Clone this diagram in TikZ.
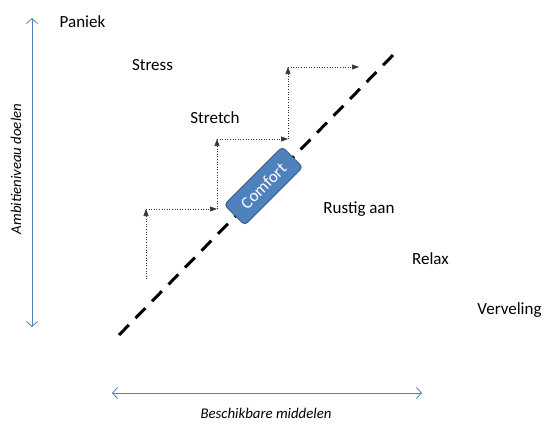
\documentclass[tikz,border=0pt]{standalone}
\usepackage{fontspec}
\setmainfont{Carlito}
\usepackage{tikz}
\usetikzlibrary{arrows.meta, positioning}
\definecolor{axisblue}{RGB}{79,129,189}
\definecolor{boxblue}{RGB}{79,129,189}
\definecolor{boxedge}{RGB}{56,93,138}
\tikzstyle{zone} = [font=\fontsize{17}{20}\selectfont, inner sep=0pt]
\tikzstyle{axislabel} = [font=\fontsize{14.8}{17}\selectfont\itshape, inner sep=0pt]
\tikzstyle{axis} = [axisblue, line width=0.8pt, {Straight Barb[length=5pt,width=11pt]}-{Straight Barb[length=5pt,width=11pt]}]
\tikzstyle{stair} = [dotted, line width=0.6pt, black!80, -{Triangle[length=7pt,width=5pt]}]
\tikzstyle{comfortbox} = [rectangle, rounded corners=4pt, minimum width=82pt, minimum height=29pt, fill=boxblue, draw=boxedge, line width=1pt, text=white, font=\fontsize{17}{20}\selectfont, inner sep=0pt]

\begin{document}
\begin{tikzpicture}[x=1pt, y=-1pt]
  \useasboundingbox (0,0) rectangle (555,439);

  % Assen
  \coordinate (ytop) at (32,18);
  \coordinate (ybot) at (32,327);
  \coordinate (xleft) at (112,393);
  \coordinate (xright) at (422,393);
  \draw[axis] (ybot) -- (ytop);
  \draw[axis] (xleft) -- (xright);
  \node[axislabel, rotate=90] (ylab) at (16,169) {Ambitieniveau doelen};
  \node[axislabel] (xlab) at (266,413) {Beschikbare middelen};

  % Zones
  \node[zone] (paniek) at (82.5,22) {Paniek};
  \node[zone] (stress) at (152.5,65) {Stress};
  \node[zone] (stretch) at (215,118) {Stretch};
  \node[zone] (rustig) at (359,209) {Rustig aan};
  \node[zone] (relax) at (430.5,259) {Relax};
  \node[zone] (verveling) at (509.5,310) {Verveling};

  % Comfortlijn
  \coordinate (lijnlo) at (119,335);
  \coordinate (lijnhi) at (397,51);
  \draw[line width=3pt, dash pattern=on 14pt off 9.6pt] (lijnlo) -- (lijnhi);
  \node[comfortbox, rotate=45] (comfort) at (263.5,186) {Comfort};

  % Trap
  \coordinate (t0) at (146,279);
  \coordinate (t1) at (146,209);
  \coordinate (t2) at (217,209);
  \coordinate (t3) at (217,139);
  \coordinate (t4) at (288,139);
  \coordinate (t5) at (288,67);
  \coordinate (t6) at (359,67);
  \draw[stair] (t0) -- (t1);
  \draw[stair] (t1) -- (t2);
  \draw[stair] (t2) -- (t3);
  \draw[stair] (t3) -- (t4);
  \draw[stair] (t4) -- (t5);
  \draw[stair] (t5) -- (t6);
\end{tikzpicture}
\end{document}
